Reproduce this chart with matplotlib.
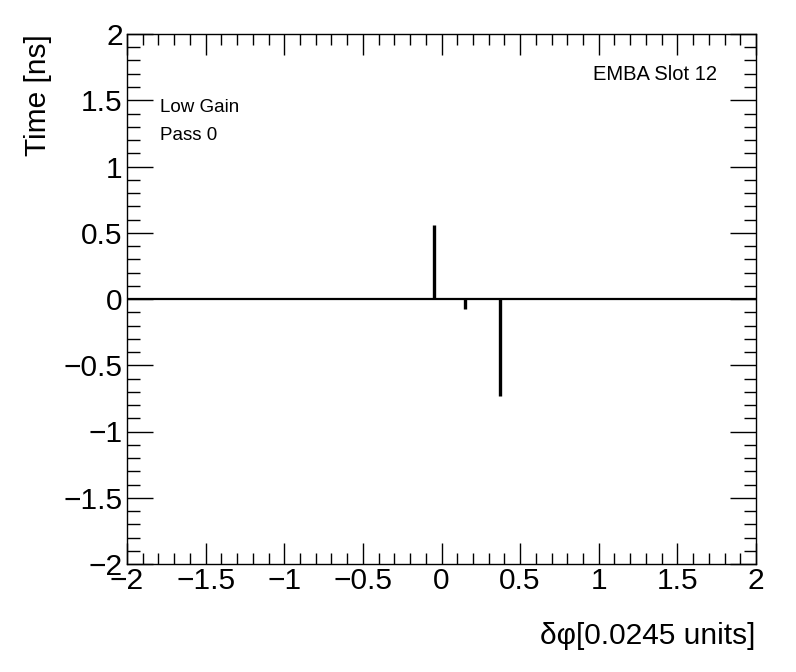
import numpy as np
import matplotlib.pyplot as plt
from matplotlib.ticker import MultipleLocator

# values
phi_offsets = [-0.048, 0.151, 0.370]
time_shifts = [0.555, -0.075, -0.73]
x_range = [-2.0, 2.0]
y_range = [-2.0, 2.0]
major_ticks = [-2, -1.5, -1, -0.5, 0, 0.5, 1, 1.5, 2]

plt.rcParams['font.family'] = ['Liberation Sans', 'DejaVu Sans']
plt.rcParams['axes.unicode_minus'] = True

fig = plt.figure(figsize=(7.96, 6.72), dpi=100)
ax = fig.add_axes([127 / 796, 1 - 564 / 672, 629 / 796, 530 / 672])

ax.hlines(0, x_range[0], x_range[1], color='black', linewidth=1.6)
ax.vlines(phi_offsets, 0, time_shifts, color='black', linewidth=2.4)

ax.set_xlim(x_range)
ax.set_ylim(y_range)
ax.set_xticks(major_ticks)
ax.set_yticks(major_ticks)
ax.set_xticklabels([f"{t:g}".replace('-', '\u2212') for t in major_ticks])
ax.set_yticklabels([f"{t:g}".replace('-', '\u2212') for t in major_ticks])
ax.xaxis.set_minor_locator(MultipleLocator(0.1))
ax.yaxis.set_minor_locator(MultipleLocator(0.1))

ax.tick_params(which='both', direction='in', top=True, right=True,
               width=1, labelsize=21.5, color='black')
ax.tick_params(axis='x', which='major', length=15, pad=2)
ax.tick_params(axis='x', which='minor', length=8)
ax.tick_params(axis='y', which='major', length=19, pad=3)
ax.tick_params(axis='y', which='minor', length=9)
for s in ax.spines.values():
    s.set_linewidth(1)

fig.text(755 / 796, 1 - 636 / 672, "\u03b4\u03c6[0.0245 units]", fontsize=21.5,
         ha='right', va='center')
fig.text(38 / 796, 1 - 34 / 672, "Time [ns]", fontsize=21.5, rotation=90,
         ha='center', va='top')

fig.text(160 / 796, 1 - 108 / 672, "Low Gain", fontsize=13.5, ha='left', va='center')
fig.text(160 / 796, 1 - 135 / 672, "Pass 0", fontsize=13.5, ha='left', va='center')
fig.text(717 / 796, 1 - 74 / 672, "EMBA Slot 12", fontsize=14.5, ha='right', va='center')

fig.savefig("out.png", dpi=100)
